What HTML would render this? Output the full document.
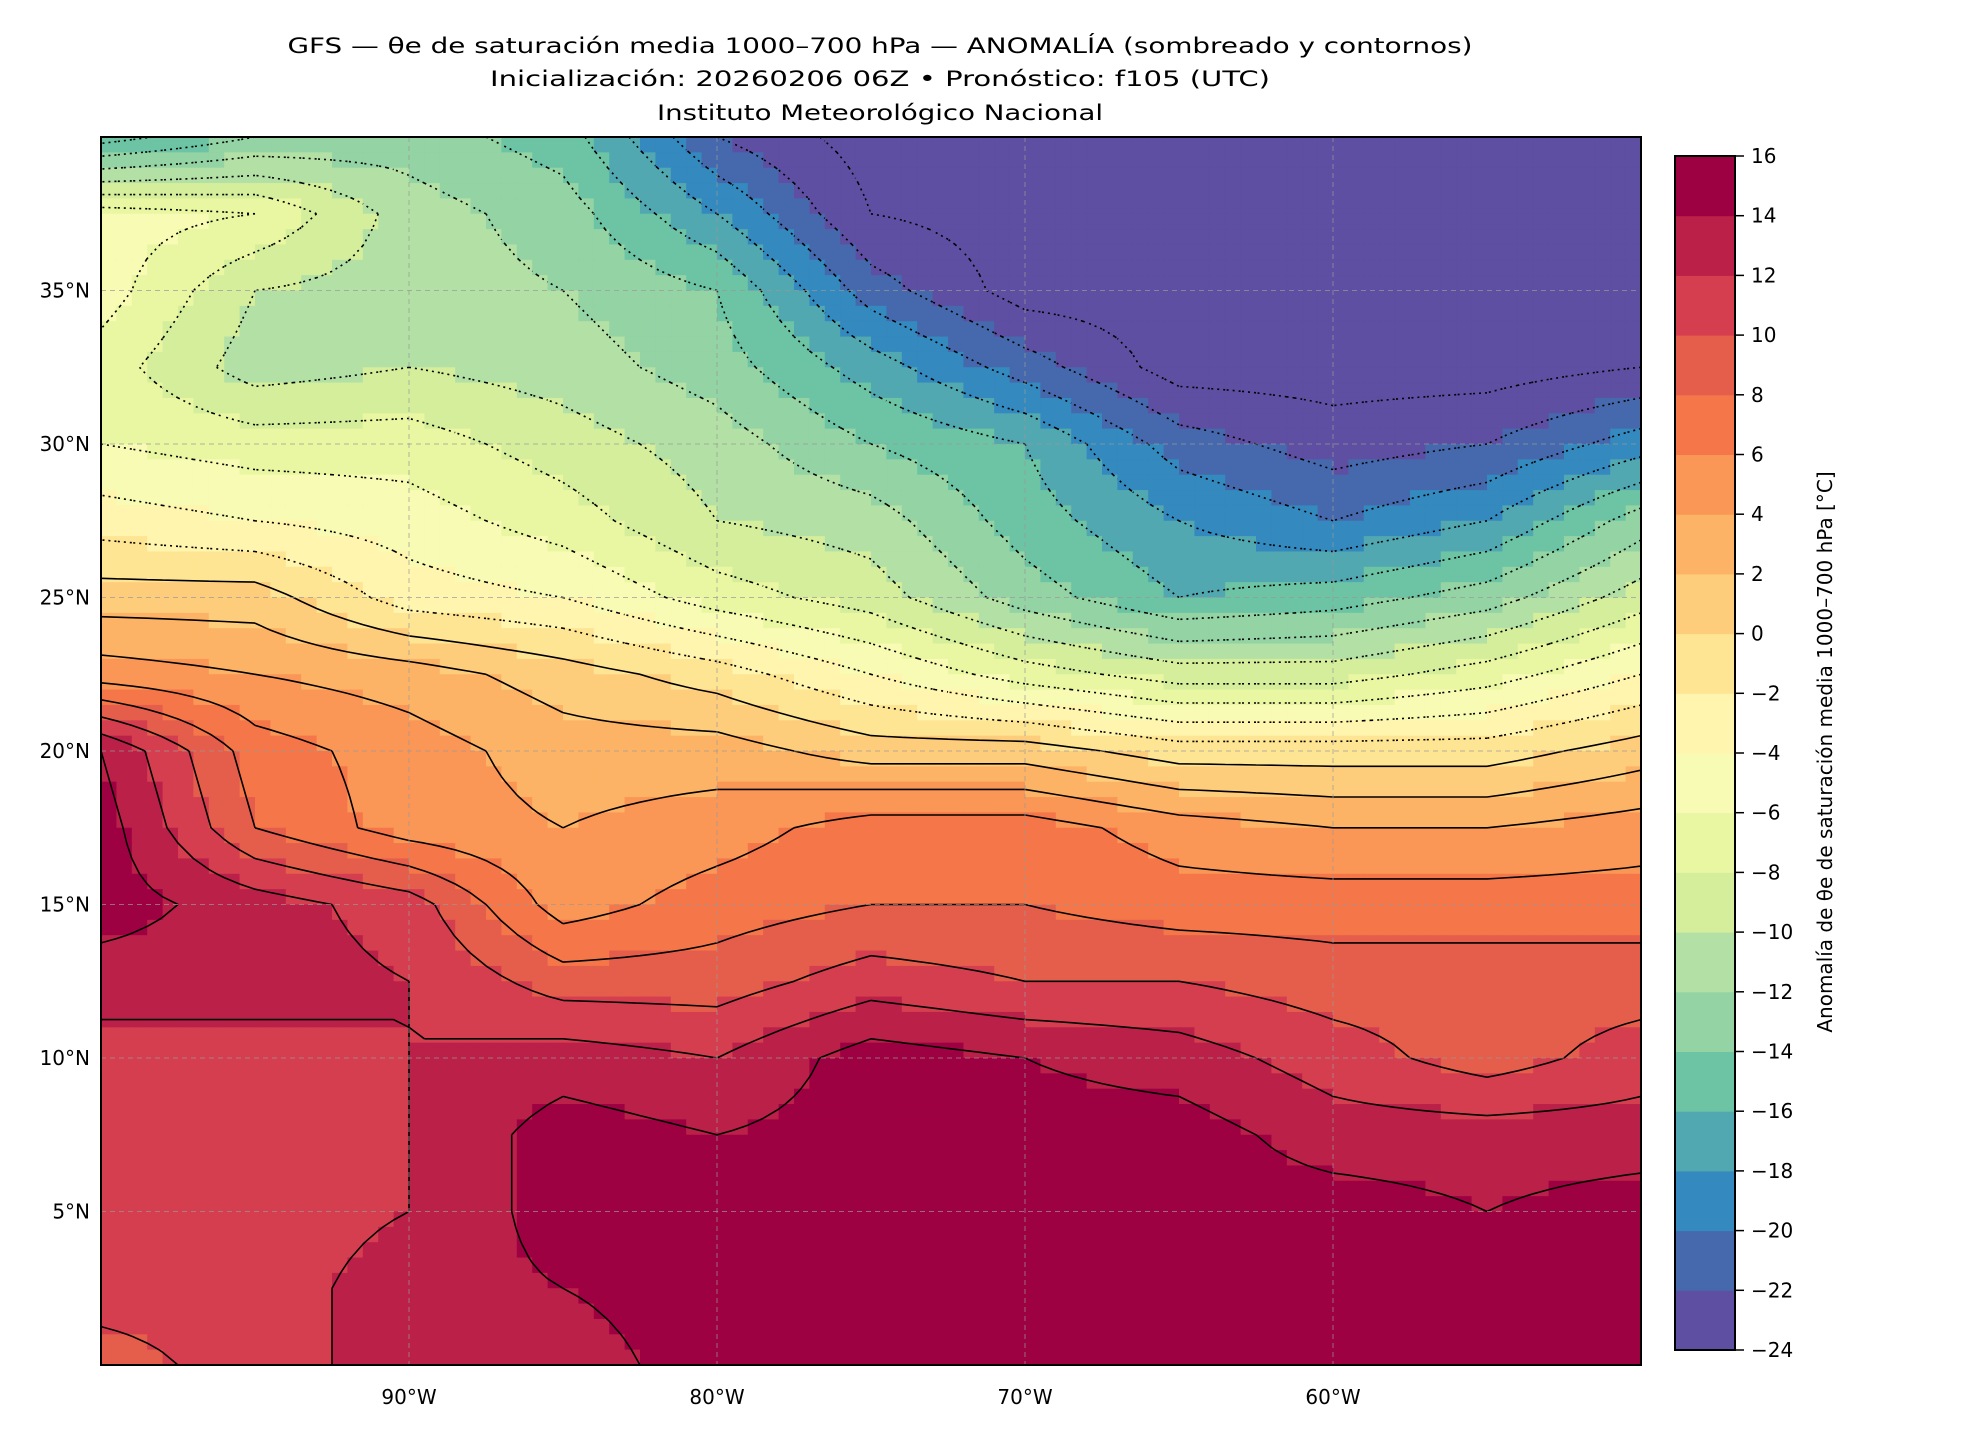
<!DOCTYPE html>
<html><head><meta charset="utf-8">
<style>
html,body{margin:0;padding:0;background:#fff;}
svg{display:block;}
text{font-family:"DejaVu Sans","Liberation Sans",sans-serif;fill:#000;}
</style></head>
<body>
<svg id="chart" width="1980" height="1440" viewBox="0 0 1980 1440" xmlns="http://www.w3.org/2000/svg">
<g>
<text x="880" y="53" font-size="21" text-anchor="middle" textLength="1185" lengthAdjust="spacingAndGlyphs">GFS — θe de saturación media 1000–700 hPa — ANOMALÍA (sombreado y contornos)</text>
<text x="880" y="86" font-size="21" text-anchor="middle" textLength="780" lengthAdjust="spacingAndGlyphs">Inicialización: 20260206 06Z   •   Pronóstico: f105 (UTC)</text>
<text x="880" y="120" font-size="21" text-anchor="middle" textLength="446" lengthAdjust="spacingAndGlyphs">Instituto Meteorológico Nacional</text>
</g>
<defs><clipPath id="mapclip"><rect x="101" y="137" width="1540" height="1228"/></clipPath></defs>
<g id="cells" clip-path="url(#mapclip)"></g>
<g id="contours" clip-path="url(#mapclip)"></g>
<g id="grid"></g>
<rect x="101" y="137" width="1540" height="1228" fill="none" stroke="#000" stroke-width="2"/>
<g id="xticks"></g>
<g id="yticks"></g>
<g id="cbar"></g>
<text transform="translate(1832,752) rotate(-90)" font-size="20" text-anchor="middle">Anomalía de θe de saturación media 1000–700 hPa [°C]</text>
</svg>
<script>
// Data: grid nodes lat 40..0 step 2.5 (rows), lon -100..-50 step 5 (cols)
const lats = [40,37.5,35,32.5,30,27.5,25,22.5,20,17.5,15,12.5,10,7.5,5,2.5,0];
const lons = [-100,-95,-90,-85,-80,-75,-70,-65,-60,-55,-50];
const row40   = [-17,-14,-13,-15,-22,-25,-25,-25,-25,-25,-25];
const row37_5 = [-5,-6,-11,-13,-18,-24,-25,-25,-25,-25,-25];
const row35   = [-5,-10,-11,-12,-14,-21,-25,-25,-25,-25,-25];
const row32_5 = [-7,-11,-10,-11,-13,-17,-21,-25,-25,-25,-24];
const row30   = [-6,-7,-7,-9,-11,-14,-16,-21,-23,-22,-19];
const row27_5 = [-3,-4,-5,-7,-10,-11,-15,-18,-20,-18,-13];
const row25   = [1,1,-3,-4,-7,-9,-13,-16,-15,-13,-9];
const row22_5 = [5,4,3,1,-1,-4,-7,-9,-9,-7,-4];
const row20   = [14,7,5,3,3,1,1,-1,-1,-1,1];
const row17_5 = [15,8,5,4,5,7,7,5,4,4,5];
const row15   = [15,13,11,5,7,8,8,7,7,7,7];
const row12_5 = [13,13,12,9,9,11,10,10,9,9,9];
const row10   = [11,11,12,13,12,15,14,13,11,9,11];
const row7_5  = [11,11,12,15,14,15,15,15,13,13,13];
const row5    = [11,11,12,15,15,15,15,15,15,14,15];
const row2_5  = [11,11,13,14,15,15,15,15,15,15,15];
const row0    = [9,11,13,13,15,15,15,15,15,15,15];
const field = [row40,row37_5,row35,row32_5,row30,row27_5,row25,row22_5,row20,row17_5,row15,row12_5,row10,row7_5,row5,row2_5,row0];
const levels = [-24,-22,-20,-18,-16,-14,-12,-10,-8,-6,-4,-2,0,2,4,6,8,10,12,14,16];
const colors = ["#5e4fa2","#4669ad","#3489be","#52a8b0","#6cc4a4","#93d3a4","#b3e0a4","#d5ee9c","#e9f6a2","#f8fbb3","#fff5ae","#fee593","#fecd7c","#fdb365","#fa9656","#f57648","#e55e4b","#d53e4f","#bb2049","#9e0142"];
const xTickLabels = ["90°W","80°W","70°W","60°W"];
const xTickVals = [-90,-80,-70,-60];
const yTickLabels = ["5°N","10°N","15°N","20°N","25°N","30°N","35°N"];
const yTickVals = [5,10,15,20,25,30,35];

const NS="http://www.w3.org/2000/svg";
const X0=101,X1=1641,Y0=137,Y1=1365;
function xs(lon){return X0+(lon+100)/50*(X1-X0);}
function ys(lat){return Y0+(40-lat)/40*(Y1-Y0);}
function val(lon,lat){
  let fi=(lon+100)/5, fj=(40-lat)/2.5;
  let i=Math.min(Math.floor(fi),lons.length-2), j=Math.min(Math.floor(fj),lats.length-2);
  let tx=fi-i, ty=fj-j;
  let a=field[j][i],b=field[j][i+1],c=field[j+1][i],d=field[j+1][i+1];
  return (a*(1-tx)+b*tx)*(1-ty)+(c*(1-tx)+d*tx)*ty;
}
function colorOf(v){
  let k=Math.floor((v+24)/2); k=Math.max(0,Math.min(colors.length-1,k));
  return colors[k];
}
const cells=document.getElementById('cells');
const step=0.5;
for(let lat=40;lat>0;lat-=step){
  for(let lon=-100;lon<-50;lon+=step){
    const v=val(lon+step/2,lat-step/2);
    const r=document.createElementNS(NS,'rect');
    
    
    r.setAttribute('x',xs(lon).toFixed(2));r.setAttribute('y',ys(lat).toFixed(2));
    r.setAttribute('width',(xs(lon+step)-xs(lon)+0.6).toFixed(2));
    r.setAttribute('height',(ys(lat-step)-ys(lat)+0.6).toFixed(2));
    r.setAttribute('fill',colorOf(v));
    cells.appendChild(r);
  }
}
// contours via marching squares on 0.5° nodes
const cg=document.getElementById('contours');
const nx=101, ny=81, g=[];
for(let j=0;j<ny;j++){g.push([]);for(let i=0;i<nx;i++){g[j].push(val(-100+i*0.5,40-j*0.5));}}
for(const L of levels){
  let d='';
  for(let j=0;j<ny-1;j++)for(let i=0;i<nx-1;i++){
    const p=[[i,j,g[j][i]],[i+1,j,g[j][i+1]],[i+1,j+1,g[j+1][i+1]],[i,j+1,g[j+1][i]]];
    const pts=[];
    for(let e=0;e<4;e++){
      const A=p[e],B=p[(e+1)%4];
      if((A[2]<L)!==(B[2]<L)){
        const t=(L-A[2])/(B[2]-A[2]);
        pts.push([A[0]+(B[0]-A[0])*t,A[1]+(B[1]-A[1])*t]);
      }
    }
    for(let k=0;k+1<pts.length;k+=2){
      const a=pts[k],b=pts[k+1];
      d+='M'+xs(-100+a[0]*0.5).toFixed(1)+' '+ys(40-a[1]*0.5).toFixed(1)+'L'+xs(-100+b[0]*0.5).toFixed(1)+' '+ys(40-b[1]*0.5).toFixed(1);
    }
  }
  if(!d)continue;
  const path=document.createElementNS(NS,'path');
  
  
  path.setAttribute('d',d);path.setAttribute('fill','none');path.setAttribute('stroke','#000');
  path.setAttribute('stroke-width','1.6');
  if(L<0)path.setAttribute('stroke-dasharray','2,4');
  cg.appendChild(path);
}
// gridlines & ticks
const grid=document.getElementById('grid'), xt=document.getElementById('xticks'), yt=document.getElementById('yticks');
xTickVals.forEach((v,k)=>{
  const l=document.createElementNS(NS,'line');
  
  
  l.setAttribute('x1',xs(v));l.setAttribute('x2',xs(v));l.setAttribute('y1',Y0);l.setAttribute('y2',Y1);
  l.setAttribute('stroke','#999');l.setAttribute('stroke-width','1');l.setAttribute('stroke-dasharray','5,4');l.setAttribute('opacity','0.7');
  grid.appendChild(l);
  const t=document.createElementNS(NS,'text');
  
  
  t.setAttribute('x',xs(v));t.setAttribute('y',Y1+39);t.setAttribute('font-size','20');t.setAttribute('text-anchor','middle');
  t.textContent=xTickLabels[k];xt.appendChild(t);
});
yTickVals.forEach((v,k)=>{
  const l=document.createElementNS(NS,'line');
  
  
  l.setAttribute('x1',X0);l.setAttribute('x2',X1);l.setAttribute('y1',ys(v));l.setAttribute('y2',ys(v));
  l.setAttribute('stroke','#999');l.setAttribute('stroke-width','1');l.setAttribute('stroke-dasharray','5,4');l.setAttribute('opacity','0.7');
  grid.appendChild(l);
  const t=document.createElementNS(NS,'text');
  
  
  t.setAttribute('x',X0-11);t.setAttribute('y',ys(v)+7);t.setAttribute('font-size','20');t.setAttribute('text-anchor','end');
  t.textContent=yTickLabels[k];yt.appendChild(t);
});
// colorbar
const cb=document.getElementById('cbar');
const CX=1675,CW=60,CT=156,CB=1350;
function cy(v){return CB-(v+24)/40*(CB-CT);}
colors.forEach((c,k)=>{
  const r=document.createElementNS(NS,'rect');
  
  
  r.setAttribute('x',CX);r.setAttribute('y',cy(levels[k+1]));r.setAttribute('width',CW);
  r.setAttribute('height',(cy(levels[k])-cy(levels[k+1])+0.5));r.setAttribute('fill',c);
  cb.appendChild(r);
});
const fr=document.createElementNS(NS,'rect');


fr.setAttribute('x',CX);fr.setAttribute('y',CT);fr.setAttribute('width',CW);fr.setAttribute('height',CB-CT);
fr.setAttribute('fill','none');fr.setAttribute('stroke','#000');fr.setAttribute('stroke-width','2');
cb.appendChild(fr);
levels.forEach(v=>{
  const l=document.createElementNS(NS,'line');
  
  
  l.setAttribute('x1',CX+CW);l.setAttribute('x2',CX+CW+9);l.setAttribute('y1',cy(v));l.setAttribute('y2',cy(v));
  l.setAttribute('stroke','#000');l.setAttribute('stroke-width','1.5');cb.appendChild(l);
  const t=document.createElementNS(NS,'text');
  
  
  t.setAttribute('x',CX+CW+16);t.setAttribute('y',cy(v)+7);t.setAttribute('font-size','20');
  t.textContent=(v<0?'\u2212'+(-v):String(v));cb.appendChild(t);
});
</script>
</body></html>
